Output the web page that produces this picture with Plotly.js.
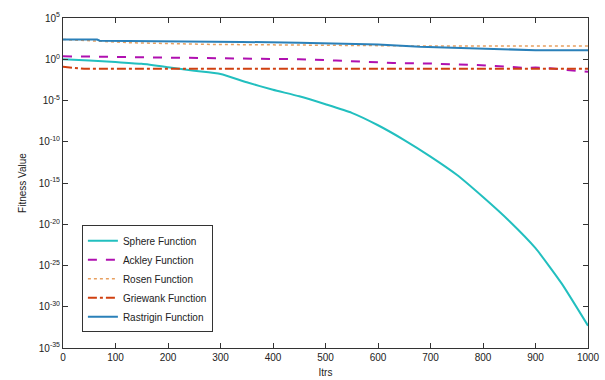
<!DOCTYPE html>
<html>
<head>
<meta charset="utf-8">
<script src="https://cdn.plot.ly/plotly-3.0.1.min.js"></script>
<style>html,body{margin:0;padding:0;background:#fff;}#chart{width:605px;height:380px;}</style>
</head>
<body>
<div id="chart"></div>
<script>
// Iterations and fitness values
const sphereX = [0, 50, 100, 150, 200, 250, 300, 350, 400, 450, 500, 550, 600, 650, 700, 750, 800, 850, 900, 950, 1000];
const sphereY = [1, 0.71, 0.45, 0.28, 0.11, 0.04, 0.016, 1.6e-3, 2e-4, 3.2e-5, 3.5e-6, 3.2e-7, 1e-8, 1.6e-10, 1.6e-12, 1e-14, 2e-17, 2.5e-20, 1.26e-23, 6.3e-28, 5e-33];

const ackleyX = [0, 100, 185, 260, 337, 450, 520, 566, 629, 700, 760, 788, 820, 851, 880, 900, 928, 960, 1000];
const ackleyY = [2.3, 1.9, 1.6, 1.4, 1.2, 1.0, 0.7, 0.5, 0.35, 0.3, 0.25, 0.2, 0.16, 0.125, 0.09, 0.1, 0.08, 0.05, 0.03];

const rosenX = [0, 60, 130, 280, 400, 547, 700, 850, 1000];
const rosenY = [250, 160, 100, 63, 55, 40, 40, 40, 40];

const griewankX = [0, 20, 40, 300, 600, 1000];
const griewankY = [0.12, 0.09, 0.07, 0.07, 0.07, 0.07];

const rastriginX = [0, 65, 70, 200, 340, 450, 566, 600, 680, 740, 800, 900, 1000];
const rastriginY = [250, 250, 180, 160, 125, 100, 63, 60, 32, 25, 16, 12.6, 12.6];

const seriesNames = ['Sphere Function', 'Ackley Function', 'Rosen Function', 'Griewank Function', 'Rastrigin Function'];

const yTickVals = [1e5, 1, 1e-5, 1e-10, 1e-15, 1e-20, 1e-25, 1e-30, 1e-35];
const yTickText = ['10<sup>5</sup>', '10<sup>0</sup>', '10<sup>-5</sup>', '10<sup>-10</sup>', '10<sup>-15</sup>', '10<sup>-20</sup>', '10<sup>-25</sup>', '10<sup>-30</sup>', '10<sup>-35</sup>'];
const xTickVals = [0, 100, 200, 300, 400, 500, 600, 700, 800, 900, 1000];

const font = {family: 'Liberation Sans, Arial, sans-serif', size: 10, color: '#222'};

const traces = [
  {x: sphereX, y: sphereY, name: seriesNames[0], mode: 'lines', line: {color: '#22bfbf', width: 2, shape: 'spline', smoothing: 0.5}},
  {x: ackleyX, y: ackleyY, name: seriesNames[1], mode: 'lines', line: {color: '#b010b0', width: 2, dash: 'dash'}},
  {x: rosenX, y: rosenY, name: seriesNames[2], mode: 'lines', line: {color: '#e8a060', width: 1.5, dash: 'dot'}},
  {x: griewankX, y: griewankY, name: seriesNames[3], mode: 'lines', line: {color: '#d04010', width: 2, dash: 'dashdot'}},
  {x: rastriginX, y: rastriginY, name: seriesNames[4], mode: 'lines', line: {color: '#2a80b9', width: 2}}
];

const layout = {
  width: 605, height: 380,
  margin: {l: 63, r: 17, t: 18, b: 32},
  paper_bgcolor: '#fff', plot_bgcolor: '#fff',
  font: font,
  showlegend: true,
  legend: {x: 0.036, y: 0.048, xanchor: 'left', yanchor: 'bottom', bgcolor: '#fff', bordercolor: '#333', borderwidth: 1, font: font, tracegroupgap: 0},
  xaxis: {
    range: [0, 1000], tickvals: xTickVals, ticks: 'inside', ticklen: 5, tickcolor: '#333',
    showline: true, linecolor: '#333', linewidth: 1, mirror: 'ticks', showgrid: false, zeroline: false,
    title: {text: 'Itrs', font: font, standoff: 6}
  },
  yaxis: {
    type: 'log', range: [-35, 5], tickvals: yTickVals, ticktext: yTickText, ticks: 'inside', ticklen: 5, tickcolor: '#333',
    showline: true, linecolor: '#333', linewidth: 1, mirror: 'ticks', showgrid: false, zeroline: false,
    title: {text: 'Fitness Value', font: font, standoff: 10}
  }
};

Plotly.newPlot('chart', traces, layout, {displayModeBar: false, staticPlot: true});
</script>
</body>
</html>
